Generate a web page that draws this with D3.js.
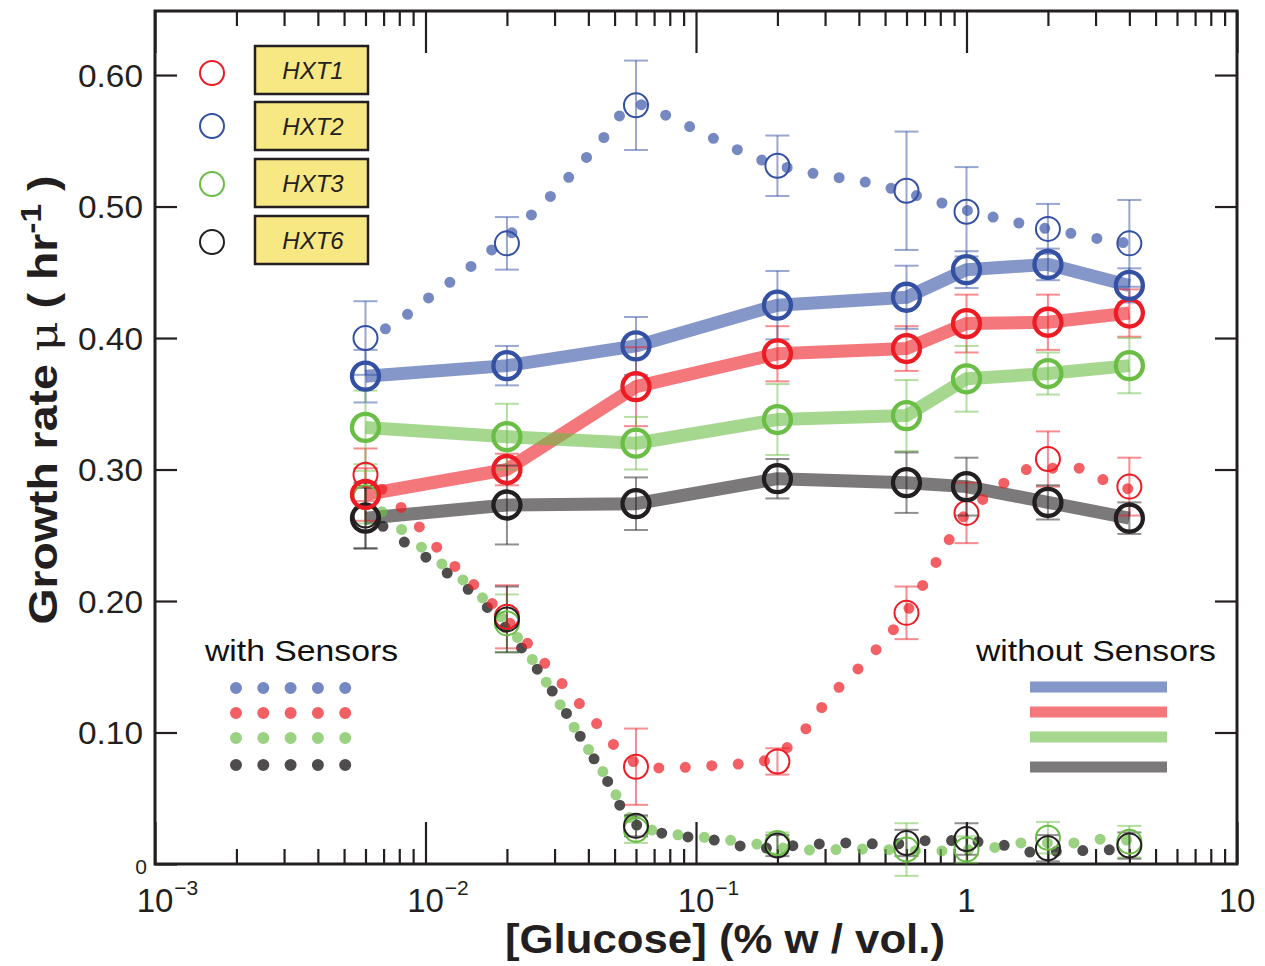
<!DOCTYPE html>
<html>
<head>
<meta charset="utf-8">
<script src="https://cdn.jsdelivr.net/npm/d3@7"></script>
<style>
  html, body { margin: 0; padding: 0; background: #fff; }
  svg { display: block; }
  text { font-family: "Liberation Sans", Arial, Helvetica, sans-serif; }
</style>
</head>
<body>
<svg id="chart" width="1265" height="966"></svg>
<script>
// ---------------- data ----------------
const glucose = [0.006, 0.02, 0.06, 0.2, 0.6, 1, 2, 4];
const strains = ["HXT1", "HXT2", "HXT3", "HXT6"];

// without sensors (thick lines, thick circles)
const woHXT1 = [0.281, 0.300, 0.363, 0.388, 0.392, 0.411, 0.412, 0.419];
const woHXT1Err = [0.020, 0.012, 0.030, 0.021, 0.017, 0.022, 0.021, 0.018];
const woHXT2 = [0.371, 0.379, 0.394, 0.425, 0.431, 0.452, 0.456, 0.440];
const woHXT2Err = [0.020, 0.015, 0.022, 0.026, 0.024, 0.014, 0.012, 0.013];
const woHXT3 = [0.332, 0.325, 0.320, 0.338, 0.341, 0.369, 0.373, 0.379];
const woHXT3Err = [0.028, 0.025, 0.020, 0.027, 0.027, 0.025, 0.016, 0.021];
const woHXT6 = [0.263, 0.273, 0.274, 0.293, 0.290, 0.287, 0.275, 0.263];
const woHXT6Err = [0.023, 0.030, 0.020, 0.015, 0.023, 0.022, 0.013, 0.012];

// with sensors (thin open circles)
const wHXT1 = [0.296, 0.188, 0.074, 0.078, 0.191, 0.267, 0.308, 0.287];
const wHXT1Err = [0.020, 0.024, 0.029, 0.010, 0.020, 0.023, 0.021, 0.022];
const wHXT2 = [0.400, 0.472, 0.577, 0.531, 0.512, 0.496, 0.483, 0.472];
const wHXT2Err = [0.028, 0.020, 0.034, 0.023, 0.045, 0.034, 0.019, 0.033];
const wHXT3 = [0.279, 0.183, 0.026, 0.016, 0.011, 0.011, 0.020, 0.017];
const wHXT3Err = [0.020, 0.022, 0.010, 0.008, 0.020, 0.010, 0.012, 0.012];
const wHXT6 = [0.265, 0.186, 0.029, 0.014, 0.016, 0.019, 0.012, 0.014];
const wHXT6Err = [0.025, 0.025, 0.008, 0.008, 0.010, 0.012, 0.010, 0.010];

// fitted curves for "with Sensors" (dotted)
const fitHXT1X = [0.006, 0.00733, 0.00869, 0.0118, 0.0164, 0.0245, 0.0333, 0.0449, 0.0515, 0.060, 0.0743, 0.1186, 0.175, 0.238, 0.313, 0.436, 0.597, 0.785, 1.0, 1.2, 1.78, 2.61, 3.22, 4];
const fitHXT1Y = [0.296, 0.280, 0.265, 0.234, 0.205, 0.165, 0.133, 0.102, 0.087, 0.077, 0.073, 0.075, 0.078, 0.096, 0.127, 0.157, 0.191, 0.232, 0.267, 0.280, 0.301, 0.301, 0.292, 0.285];
const fitHXT2X = [0.006, 0.00726, 0.01066, 0.0155, 0.0222, 0.0317, 0.0434, 0.060, 0.0762, 0.1156, 0.177, 0.26, 0.436, 0.715, 1.05, 1.6, 2.52, 3.17, 4];
const fitHXT2Y = [0.400, 0.408, 0.433, 0.458, 0.485, 0.516, 0.547, 0.578, 0.570, 0.552, 0.535, 0.526, 0.518, 0.506, 0.496, 0.487, 0.479, 0.475, 0.472];
const fitHXT3X = [0.006, 0.00733, 0.0103, 0.01486, 0.0223, 0.0286, 0.0367, 0.0469, 0.0528, 0.06, 0.0781, 0.1236, 0.157, 0.262, 0.414, 0.751, 1.32, 1.6, 2.52, 3.22, 4];
const fitHXT3Y = [0.279, 0.263, 0.236, 0.210, 0.170, 0.135, 0.099, 0.065, 0.046, 0.030, 0.0236, 0.019, 0.016, 0.0106, 0.0114, 0.0099, 0.013, 0.016, 0.016, 0.019, 0.018];
const fitHXT6X = [0.006, 0.00759, 0.01104, 0.01604, 0.0233, 0.0304, 0.0389, 0.0493, 0.0542, 0.06, 0.0743, 0.1107, 0.1725, 0.244, 0.358, 0.513, 0.759, 1.25, 1.75, 2.45, 3.51, 4];
const fitHXT6Y = [0.267, 0.251, 0.227, 0.200, 0.161, 0.127, 0.091, 0.0555, 0.0388, 0.030, 0.0236, 0.019, 0.012, 0.0144, 0.016, 0.015, 0.018, 0.016, 0.009, 0.010, 0.011, 0.012];

// axis ticks
const xMajorTicks = [0.001, 0.01, 0.1, 1, 10];
const xTickLabels = [["10", "\u22123"], ["10", "\u22122"], ["10", "\u22121"], ["1", ""], ["10", ""]];
const yTicks = [0, 0.1, 0.2, 0.3, 0.4, 0.5, 0.6];
const yTickLabels = ["0", "0.10", "0.20", "0.30", "0.40", "0.50", "0.60"];

// ---------------- styling ----------------
const colors = { HXT1: "#ed1c24", HXT2: "#3450a3", HXT3: "#6abd45", HXT6: "#231f20" };
const dotOpacity = { HXT1: 0.7, HXT2: 0.68, HXT3: 0.68, HXT6: 0.8 };

const W = 1265, H = 966;
const L = 155, R = 1237, T = 11, B = 864;

const svg = d3.select("#chart");
const x = d3.scaleLog().domain([1e-3, 10]).range([L, R]);
const y = d3.scaleLinear().domain([0, 0.6487]).range([B, T]);

const series = {
  HXT1: { wo: woHXT1, woErr: woHXT1Err, w: wHXT1, wErr: wHXT1Err, fx: fitHXT1X, fy: fitHXT1Y },
  HXT2: { wo: woHXT2, woErr: woHXT2Err, w: wHXT2, wErr: wHXT2Err, fx: fitHXT2X, fy: fitHXT2Y },
  HXT3: { wo: woHXT3, woErr: woHXT3Err, w: wHXT3, wErr: wHXT3Err, fx: fitHXT3X, fy: fitHXT3Y },
  HXT6: { wo: woHXT6, woErr: woHXT6Err, w: wHXT6, wErr: wHXT6Err, fx: fitHXT6X, fy: fitHXT6Y }
};

// ---------------- axes ----------------
const minorTicks = [];
for (let e = -3; e < 1; e++) for (let k = 2; k <= 9; k++) minorTicks.push(k * Math.pow(10, e));

const axisG = svg.append("g");
function styleAxis(g) {
  g.select(".domain").remove();
  g.selectAll(".tick line").attr("stroke", "#231f20").attr("stroke-width", 2.2);
}
axisG.append("g").attr("transform", `translate(0,${B})`)
  .call(d3.axisBottom(x).tickValues(minorTicks).tickSize(-15).tickFormat(() => "")).call(styleAxis);
axisG.append("g").attr("transform", `translate(0,${B})`)
  .call(d3.axisBottom(x).tickValues(xMajorTicks).tickSize(-42).tickFormat(() => "")).call(styleAxis);
axisG.append("g").attr("transform", `translate(0,${T})`)
  .call(d3.axisTop(x).tickValues(minorTicks).tickSize(-15).tickFormat(() => "")).call(styleAxis);
axisG.append("g").attr("transform", `translate(0,${T})`)
  .call(d3.axisTop(x).tickValues(xMajorTicks).tickSize(-42).tickFormat(() => "")).call(styleAxis);
const yAxisL = axisG.append("g").attr("transform", `translate(${L},0)`)
  .call(d3.axisLeft(y).tickValues(yTicks).tickSize(-22).tickPadding(12)
    .tickFormat((d, i) => yTickLabels[i])).call(styleAxis);
yAxisL.selectAll(".tick text")
  .attr("fill", "#231f20")
  .style("font-size", (d) => d === 0 ? "21px" : "31px")
  .attr("dy", (d) => d === 0 ? "0.45em" : "0.36em")
  .attr("x", (d) => d === 0 ? -8 : -12)
  .each(function (d) { if (d !== 0) { d3.select(this).attr("textLength", 65).attr("lengthAdjust", "spacingAndGlyphs"); } });
axisG.append("g").attr("transform", `translate(${R},0)`)
  .call(d3.axisRight(y).tickValues(yTicks.filter(d => d > 0)).tickSize(-22).tickFormat(() => "")).call(styleAxis);

// x tick labels with superscripts
const xl = svg.append("g");
xMajorTicks.forEach((v, i) => {
  const [base, sup] = xTickLabels[i];
  const t = xl.append("text").attr("x", x(v)).attr("y", 912).attr("text-anchor", "middle")
    .attr("fill", "#231f20").style("font-size", "33px").text(base);
  if (sup) {
    const w = t.node().getComputedTextLength();
    xl.append("text").attr("x", x(v) + w / 2 + 1).attr("y", 895)
      .attr("fill", "#231f20").style("font-size", "21px").text(sup);
  }
});

// frame
svg.append("rect").attr("x", L).attr("y", T).attr("width", R - L).attr("height", B - T)
  .attr("fill", "none").attr("stroke", "#231f20").attr("stroke-width", 3);

// ---------------- marks ----------------
const plot = svg.append("g");
const lineWO = d3.line().x((d, i) => x(glucose[i])).y(d => y(d));

// thick lines (without sensors)
strains.forEach(s => {
  plot.append("path").datum(series[s].wo)
    .attr("d", lineWO).attr("fill", "none")
    .attr("stroke", colors[s]).attr("stroke-opacity", 0.6)
    .attr("stroke-width", 13).attr("stroke-linejoin", "round");
});

// dotted fitted curves (with sensors)
const fitLine = d3.line().x(d => x(d[0])).y(d => y(d[1])).curve(d3.curveMonotoneX);
["HXT6", "HXT3", "HXT1", "HXT2"].forEach(s => {
  const pts = series[s].fx.map((v, i) => [v, series[s].fy[i]]);
  plot.append("path").datum(pts).attr("d", fitLine).attr("fill", "none")
    .attr("stroke", colors[s]).attr("stroke-opacity", dotOpacity[s])
    .attr("stroke-width", 11).attr("stroke-linecap", "round")
    .attr("stroke-dasharray", "0 26.5").attr("stroke-dashoffset", 4.5);
});

// error bars
function errorBars(vals, errs, color) {
  const g = plot.append("g").attr("stroke", color).attr("stroke-opacity", 0.5).attr("stroke-width", 2);
  vals.forEach((v, i) => {
    const cx = x(glucose[i]);
    const y1 = y(v + errs[i]), y2 = y(v - errs[i]);
    g.append("line").attr("x1", cx).attr("x2", cx).attr("y1", y1).attr("y2", y2);
    g.append("line").attr("x1", cx - 12).attr("x2", cx + 12).attr("y1", y1).attr("y2", y1);
    g.append("line").attr("x1", cx - 12).attr("x2", cx + 12).attr("y1", y2).attr("y2", y2);
  });
}
strains.forEach(s => {
  errorBars(series[s].w, series[s].wErr, colors[s]);
  errorBars(series[s].wo, series[s].woErr, colors[s]);
});

// open circles with sensors
strains.forEach(s => {
  plot.append("g").selectAll("circle").data(series[s].w).join("circle")
    .attr("cx", (d, i) => x(glucose[i])).attr("cy", d => y(d)).attr("r", 12)
    .attr("fill", "none").attr("stroke", colors[s]).attr("stroke-width", 2);
});
// thick circles without sensors
["HXT6", "HXT3", "HXT1", "HXT2"].forEach(s => {
  plot.append("g").selectAll("circle").data(series[s].wo).join("circle")
    .attr("cx", (d, i) => x(glucose[i])).attr("cy", d => y(d)).attr("r", 13.5)
    .attr("fill", "none").attr("stroke", colors[s]).attr("stroke-width", 4.3);
});

// ---------------- legends ----------------
const leg = svg.append("g");
const legBoxY = [70, 126, 183, 240];
const legCircY = [73, 126, 184, 242];
strains.forEach((s, i) => {
  leg.append("circle").attr("cx", 212).attr("cy", legCircY[i]).attr("r", 12)
    .attr("fill", "none").attr("stroke", colors[s]).attr("stroke-width", 2);
  leg.append("rect").attr("x", 255).attr("y", legBoxY[i] - 24).attr("width", 113).attr("height", 48)
    .attr("fill", "#f8e883").attr("stroke", "#231f20").attr("stroke-width", 2.5);
  leg.append("text").attr("x", 313).attr("y", legBoxY[i] + 9).attr("text-anchor", "middle")
    .style("font-size", "24px").style("font-style", "italic").attr("fill", "#231f20").text(s);
});

leg.append("text").attr("x", 205).attr("y", 661).style("font-size", "30px")
  .attr("textLength", 193).attr("lengthAdjust", "spacingAndGlyphs")
  .attr("fill", "#111").text("with Sensors");
const legDotY = [688, 713, 738, 765];
["HXT2", "HXT1", "HXT3", "HXT6"].forEach((s, i) => {
  leg.append("line").attr("x1", 236).attr("x2", 345.5).attr("y1", legDotY[i]).attr("y2", legDotY[i])
    .attr("stroke", colors[s]).attr("stroke-opacity", dotOpacity[s])
    .attr("stroke-width", 12).attr("stroke-linecap", "round").attr("stroke-dasharray", "0 27.3");
});

leg.append("text").attr("x", 976).attr("y", 661).style("font-size", "30px")
  .attr("textLength", 240).attr("lengthAdjust", "spacingAndGlyphs")
  .attr("fill", "#111").text("without Sensors");
const legLineY = [687, 712, 737, 767];
["HXT2", "HXT1", "HXT3", "HXT6"].forEach((s, i) => {
  leg.append("line").attr("x1", 1030).attr("x2", 1167).attr("y1", legLineY[i]).attr("y2", legLineY[i])
    .attr("stroke", colors[s]).attr("stroke-opacity", 0.6).attr("stroke-width", 11);
});

// ---------------- axis titles ----------------
svg.append("text").attr("x", 725).attr("y", 953).attr("text-anchor", "middle")
  .style("font-size", "40px").style("font-weight", "bold").attr("fill", "#231f20")
  .attr("textLength", 440).attr("lengthAdjust", "spacingAndGlyphs")
  .text("[Glucose] (% w / vol.)");

const yt = svg.append("text").attr("transform", "translate(57,400) rotate(-90) scale(1.16,1)")
  .attr("text-anchor", "middle").style("font-size", "40px").style("font-weight", "bold")
  .attr("fill", "#231f20");
yt.append("tspan").text("Growth rate ");
yt.append("tspan").style("font-weight", "normal").style("font-family", "'DejaVu Serif', serif").text("\u03bc");
yt.append("tspan").text(" ( hr");
yt.append("tspan").attr("dy", -16).style("font-size", "29px").text("-1");
yt.append("tspan").attr("dy", 16).text(" )");
</script>
</body>
</html>
